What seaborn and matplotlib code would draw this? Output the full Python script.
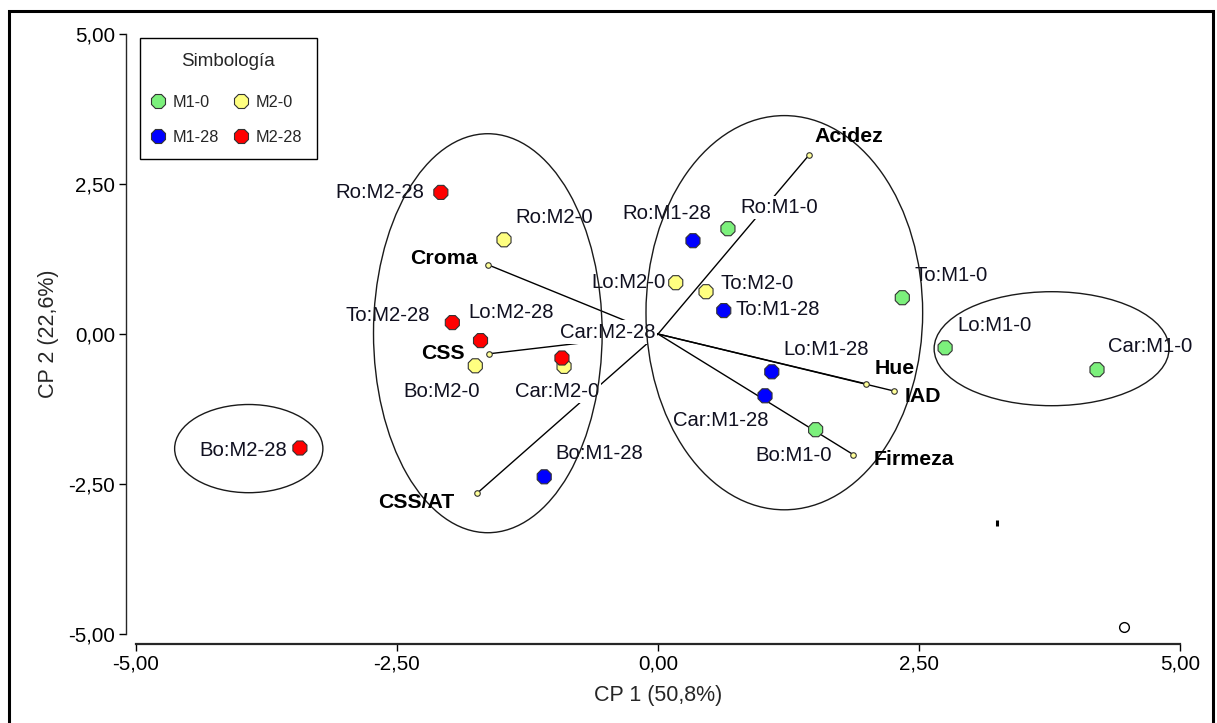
import numpy as np
import pandas as pd
import matplotlib
matplotlib.use("Agg")
import matplotlib.pyplot as plt
from matplotlib.patches import Ellipse, Rectangle
from matplotlib.lines import Line2D
from matplotlib.ticker import FuncFormatter
import seaborn as sns

# ---------------- data ----------------
samples = ["Ro:M2-28", "Ro:M2-0", "To:M2-28", "Lo:M2-28", "Bo:M2-0", "Car:M2-0",
           "Car:M2-28", "Bo:M2-28", "Bo:M1-28", "Ro:M1-28", "Ro:M1-0", "Lo:M2-0",
           "To:M2-0", "To:M1-28", "Lo:M1-28", "Car:M1-28", "Bo:M1-0", "To:M1-0",
           "Lo:M1-0", "Car:M1-0"]
groups = ["M2-28", "M2-0", "M2-28", "M2-28", "M2-0", "M2-0",
          "M2-28", "M2-28", "M1-28", "M1-28", "M1-0", "M2-0",
          "M2-0", "M1-28", "M1-28", "M1-28", "M1-0", "M1-0",
          "M1-0", "M1-0"]
cp1 = [-2.08, -1.475, -1.97, -1.70, -1.75, -0.90,
       -0.92, -3.43, -1.09, 0.335, 0.67, 0.17,
       0.46, 0.63, 1.09, 1.025, 1.51, 2.34,
       2.75, 4.205]
cp2 = [2.36, 1.57, 0.19, -0.11, -0.53, -0.54,
       -0.40, -1.90, -2.38, 1.555, 1.755, 0.855,
       0.705, 0.39, -0.63, -1.03, -1.595, 0.605,
       -0.23, -0.595]

variables = ["Acidez", "Croma", "CSS", "CSS/AT", "Hue", "IAD", "Firmeza"]
var_cp1 = [1.45, -1.63, -1.62, -1.73, 1.99, 2.26, 1.87]
var_cp2 = [2.99, 1.155, -0.33, -2.65, -0.83, -0.95, -2.01]

ell_cx = [-3.92, -1.63, 1.21, 3.77]
ell_cy = [-1.91, 0.013, 0.355, -0.245]
ell_w = [1.42, 2.19, 2.65, 2.25]
ell_h = [1.47, 6.65, 6.57, 1.90]

stray_tick = (3.245, -3.15)
stray_ring = (4.46, -4.88)

legend_order = ["M1-0", "M1-28", "M2-0", "M2-28"]
ticks = [-5.0, -2.5, 0.0, 2.5, 5.0]

# ---------------- style / layout ----------------
palette = {"M1-0": "#7CF07C", "M2-0": "#FFFF80", "M1-28": "#0000FF", "M2-28": "#FF0000"}

# label offsets in pixels (dx, dy, ha)
pt_off = {
    "Ro:M2-28": (-17, 0, "right"), "Ro:M2-0": (11, 22, "left"), "To:M2-28": (-22, 7, "right"),
    "Lo:M2-28": (-12, 28, "left"), "Bo:M2-0": (5, -26, "right"), "Car:M2-28": (-2, 26, "left"),
    "Car:M2-0": (-49, -25, "left"), "Bo:M2-28": (-13, -3, "right"), "Bo:M1-28": (11, 23, "left"),
    "Ro:M1-28": (18, 27, "right"), "Ro:M1-0": (12, 21, "left"), "Lo:M2-0": (-10, 0, "right"),
    "To:M2-0": (14, 8, "left"), "To:M1-28": (12, 1, "left"), "Lo:M1-28": (12, 22, "left"),
    "Car:M1-28": (3, -25, "right"), "Bo:M1-0": (16, -26, "right"), "To:M1-0": (12, 22, "left"),
    "Lo:M1-0": (12, 22, "left"), "Car:M1-0": (11, 23, "left"),
}
var_off = {
    "Acidez": (5, 18, "left"), "Croma": (-10, 6, "right"), "CSS": (-24, 0, "right"),
    "CSS/AT": (-23, -10, "right"), "Hue": (9, 15, "left"), "IAD": (11, -6, "left"),
    "Firmeza": (20, -5, "left"),
}

sns.set_style("ticks")
plt.rcParams["font.family"] = ["Liberation Sans", "DejaVu Sans"]

W, H = 1217, 723
fig = plt.figure(figsize=(W / 100, H / 100), dpi=100)
ax = fig.add_axes([136 / W, 1 - 634 / H, 1044 / W, 600 / H])

df = pd.DataFrame({"muestra": samples, "grupo": groups, "cp1": cp1, "cp2": cp2})

# vectors
for v, x, y in zip(variables, var_cp1, var_cp2):
    ax.plot([0, x], [0, y], color="black", lw=1.0, zorder=2, solid_capstyle="butt")
ax.scatter(var_cp1, var_cp2, s=16, facecolor="#FFFF99", edgecolor="#333333",
           linewidth=0.8, zorder=6, clip_on=False)

# ellipses
for cx, cy, w, h in zip(ell_cx, ell_cy, ell_w, ell_h):
    ax.add_patch(Ellipse((cx, cy), w, h, fill=False, ec="#1a1a1a", lw=1.0, zorder=4))

# points
sns.scatterplot(data=df, x="cp1", y="cp2", hue="grupo", palette=palette, marker="8",
                s=120, edgecolor="#333333", linewidth=0.8, legend=False, zorder=5, ax=ax,
                clip_on=False)

# point labels
for name, x, y in zip(samples, cp1, cp2):
    dx, dy, ha = pt_off[name]
    ax.annotate(name, (x, y), xytext=(dx, dy), textcoords="offset pixels", ha=ha,
                va="center", fontsize=14.6, color="#101020", zorder=3,
                bbox=dict(fc="white", ec="none", pad=1.5))

# variable labels
for name, x, y in zip(variables, var_cp1, var_cp2):
    dx, dy, ha = var_off[name]
    ax.annotate(name, (x, y), xytext=(dx, dy), textcoords="offset pixels", ha=ha,
                va="center", fontsize=15.3, fontweight="bold", color="black", zorder=7)

# stray marks
ax.plot([stray_tick[0]], [stray_tick[1]], marker="|", ms=5, mew=2.2, color="black",
        zorder=5, clip_on=False)
ax.plot([stray_ring[0]], [stray_ring[1]], marker="o", ms=7, mfc="none", mec="black",
        mew=1.0, zorder=5, clip_on=False)

# axes
ax.set_xlim(-5, 5)
ax.set_ylim(-5, 5)
ax.set_xticks(ticks)
ax.set_yticks(ticks)
fmt = FuncFormatter(lambda v, p: f"{v:.2f}".replace(".", ","))
ax.xaxis.set_major_formatter(fmt)
ax.yaxis.set_major_formatter(fmt)
ax.tick_params(axis="both", labelsize=14.8, length=5, width=1.0, colors="black", pad=3)
sns.despine(ax=ax, offset=7, trim=True)
ax.spines["bottom"].set_linewidth(1.6)
ax.spines["left"].set_linewidth(1.0)
ax.set_xlabel("CP 1 (50,8%)", fontsize=15.5, labelpad=8)
ax.set_ylabel("CP 2 (22,6%)", fontsize=15.5, labelpad=7)

# legend
handles = [Line2D([], [], ls="", marker="8", markersize=10.5, markerfacecolor=palette[g],
                  markeredgecolor="#333333", markeredgewidth=0.8, label=g) for g in legend_order]
leg = ax.legend(handles=handles, title="Simbología", ncol=2, loc="upper left",
                bbox_to_anchor=(0.004, 0.993), borderaxespad=0, fontsize=11.7,
                title_fontsize=13.6, frameon=True, fancybox=False, edgecolor="black",
                framealpha=1, labelspacing=1.23, handletextpad=0.67, columnspacing=1.2,
                borderpad=0.9, handlelength=0.4)
leg._legend_box.sep = 18
leg.get_frame().set_linewidth(1.0)
leg.set_zorder(10)

# outer frame
fig.add_artist(Rectangle((8.5 / W, -0.01), (1212.5 - 8.5) / W, 1.01 - 10.5 / H,
                         transform=fig.transFigure, fill=False, ec="black", lw=2.2))

fig.savefig("out.png", dpi=100)
